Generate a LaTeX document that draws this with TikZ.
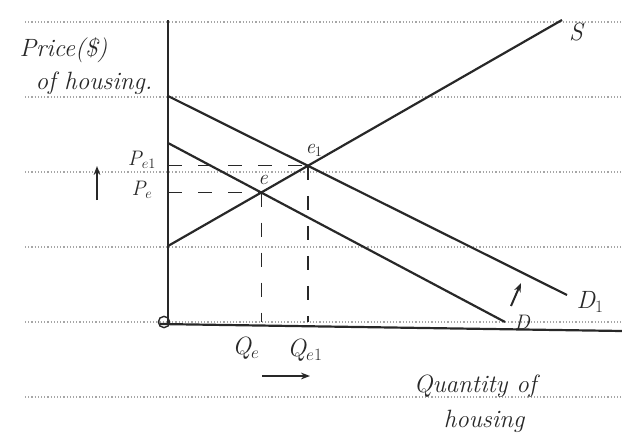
\documentclass[tikz,border=0pt]{standalone}
\usetikzlibrary{arrows.meta, positioning, intersections, calc}
\definecolor{pencil}{RGB}{40,40,40}

\begin{document}
\begin{tikzpicture}[x=1pt, y=-1pt,
  curve/.style={pencil, line width=2.2pt},
  guide/.style={pencil, line width=1.4pt, dash pattern=on 14pt off 16pt},
  rule/.style={gray!70, dotted, line width=1.2pt},
  lbl/.style={pencil, font=\fontsize{25}{27}\selectfont\itshape, inner sep=1pt},
  sml/.style={pencil, font=\fontsize{21}{23}\selectfont\itshape, inner sep=1pt},
  arr/.style={-{Stealth[length=9pt]}, line width=2pt, pencil}
]
\useasboundingbox (0,0) rectangle (622,445);
% ruled paper
\foreach \y in {22,97,172,247,322,397}
  \draw[rule] (25,\y) -- (622,\y);

% axes
\coordinate (ytop) at (168,20);
\coordinate (o)    at (168,324);
\coordinate (xbeg) at (160,324);
\coordinate (xend) at (622,331);
\node[circle, draw=pencil, line width=1.4pt, inner sep=4pt] (orig) at (164,322) {};
\draw[curve] (ytop) -- (o);
\draw[curve] (xbeg) -- (xend);

% supply and demand
\coordinate (s0)  at (168,246);
\coordinate (s1)  at (562,20);
\coordinate (d0)  at (168,143);
\coordinate (d1)  at (505,322);
\coordinate (dd0) at (168,96);
\coordinate (dd1) at (567,295);
\draw[curve, name path=S]  (s0)  -- (s1);
\draw[curve, name path=D]  (d0)  -- (d1);
\draw[curve, name path=D1] (dd0) -- (dd1);
\path[name intersections={of=S and D,  by=e}];
\path[name intersections={of=S and D1, by=e1}];

% equilibrium guides
\draw[guide] (e  -| o) -- (e);
\draw[guide] (e1 -| o) -- (e1);
\draw[guide] (e)  -- ($(e  |- o)+(0,-2)$);
\draw[guide] (e1) -- ($(e1 |- o)+(0,-2)$);

% labels
\node[lbl] (Slbl)  at (576,32)  {S};
\node[lbl] (D1lbl) at (590,302) {D$_1$};
\node[sml] (Dlbl)  at (522,322) {D};
\node[sml] (elbl)  at (263,180) {e};
\node[sml] (e1lbl) at (314,150) {e$_1$};
\node[sml] (pe1)   at (142,160) {P$_{e1}$};
\node[sml] (pe)    at (142,190) {P$_e$};
\node[lbl] (qe)    at (246,348) {Q$_e$};
\node[lbl] (qe1)   at (305,350) {Q$_{e1}$};
\node[lbl, align=left] (ylbl) at (86,66) {Price(\$)\\[6pt]\hspace*{16pt}of housing.};
\node[lbl, align=left] (xlbl) at (475,404) {Quantity of\\[8pt]\hspace*{30pt}housing};

% shifts
\coordinate (upA) at (97,200);
\coordinate (upB) at (97,166);
\draw[arr] (upA) -- (upB);
\coordinate (rtA) at (262,376);
\coordinate (rtB) at (310,376);
\draw[arr] (rtA) -- (rtB);
\coordinate (shA) at (511,306);
\coordinate (shB) at (521,283);
\draw[arr] (shA) -- (shB);
\end{tikzpicture}
\end{document}
